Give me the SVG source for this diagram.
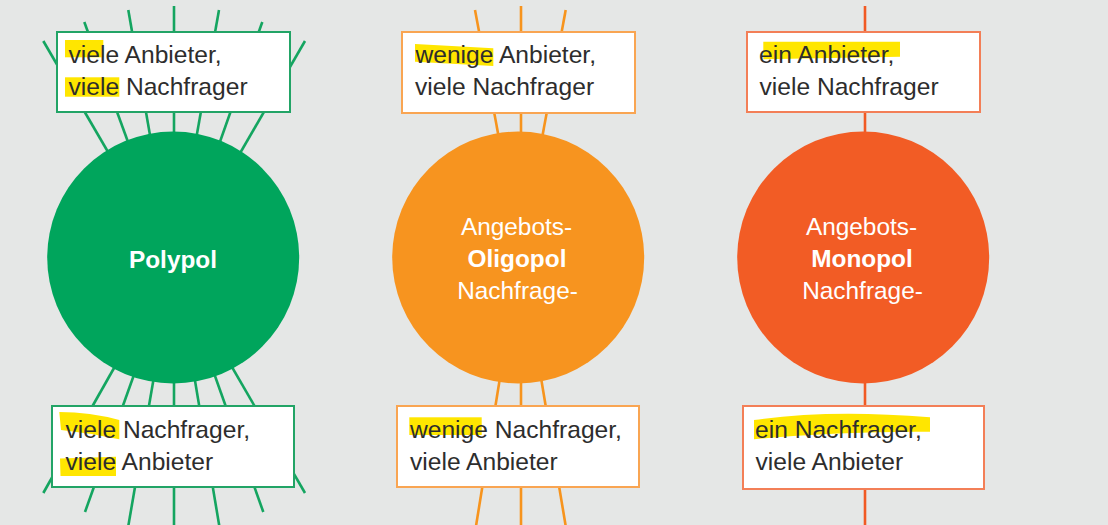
<svg xmlns="http://www.w3.org/2000/svg" width="1108" height="525" viewBox="0 0 1108 525">
<style>
.bg{fill:#e5e7e6}
.rg{stroke:#14a560;stroke-width:2.6;fill:none}
.ro{stroke:#f7941d;stroke-width:2.6;fill:none}
.rr{stroke:#f15a24;stroke-width:2.6;fill:none}
.box{fill:#ffffff;stroke-width:2}
.bg1{stroke:#22a466}
.bo{stroke:#f9a552}
.br{stroke:#f37f57}
.hl{fill:#ffe600}
.t{font-family:"Liberation Sans",Arial,sans-serif;font-size:24.6px;fill:#2d2d2d}
.c{font-family:"Liberation Sans",Arial,sans-serif;font-size:24.4px;fill:#ffffff;text-anchor:middle}
.b{font-weight:bold}
</style>
<rect class="bg" x="0" y="0" width="1108" height="525"/>
<g id="connectors">
  <line class="rg" x1="43.3" y1="41" x2="130.2" y2="190"/>
  <line class="rg" x1="84.3" y1="22" x2="145.5" y2="190"/>
  <line class="rg" x1="128.3" y1="10" x2="159.5" y2="190"/>
  <line class="rg" x1="174" y1="6" x2="174" y2="190"/>
  <line class="rg" x1="219" y1="10" x2="187" y2="190"/>
  <line class="rg" x1="262.3" y1="22" x2="202.9" y2="190"/>
  <line class="rg" x1="305" y1="41" x2="218.7" y2="190"/>
  <line class="rg" x1="129.9" y1="340" x2="43.3" y2="493"/>
  <line class="rg" x1="146.4" y1="340" x2="85" y2="512"/>
  <line class="rg" x1="160.3" y1="340" x2="128.3" y2="526"/>
  <line class="rg" x1="174" y1="340" x2="174" y2="526"/>
  <line class="rg" x1="188.2" y1="340" x2="219.3" y2="526"/>
  <line class="rg" x1="202.2" y1="340" x2="263.3" y2="512"/>
  <line class="rg" x1="216.3" y1="340" x2="305" y2="493"/>
  <line class="ro" x1="475" y1="10" x2="510.5" y2="200"/>
  <line class="ro" x1="521" y1="6" x2="521" y2="200"/>
  <line class="ro" x1="565.7" y1="10" x2="530.6" y2="200"/>
  <line class="ro" x1="506.1" y1="340" x2="476" y2="526"/>
  <line class="ro" x1="521" y1="340" x2="521" y2="526"/>
  <line class="ro" x1="534.7" y1="340" x2="565.7" y2="526"/>
  <line class="rr" x1="865" y1="6" x2="865" y2="200"/>
  <line class="rr" x1="865" y1="320" x2="865" y2="526"/>
</g>
<g id="polypol">
  <circle cx="173.2" cy="257.5" r="126" fill="#00a55c"/>
  <text class="c b" x="173" y="267.5">Polypol</text>
</g>
<g id="oligopol">
  <circle cx="518.2" cy="257.5" r="126" fill="#f7941f"/>
  <text class="c" x="516.5" y="235">Angebots-</text>
  <text class="c b" x="517" y="266.7">Oligopol</text>
  <text class="c" x="517.5" y="298.5">Nachfrage-</text>
</g>
<g id="monopol">
  <circle cx="863.2" cy="257.5" r="126" fill="#f25c25"/>
  <text class="c" x="861.5" y="235">Angebots-</text>
  <text class="c b" x="862" y="266.7">Monopol</text>
  <text class="c" x="862.5" y="298.5">Nachfrage-</text>
</g>
<g id="polypol-top">
  <rect class="box bg1" x="57" y="32" width="233" height="80"/>
  <rect class="hl" x="65" y="40" width="38.3" height="17.3"/>
  <rect class="hl" x="65" y="77.3" width="54.3" height="19.4"/>
  <text class="t" x="68.5" y="63.3">viele Anbieter,</text>
  <text class="t" x="68.5" y="95">viele Nachfrager</text>
</g>
<g id="polypol-bottom">
  <rect class="box bg1" x="52" y="406" width="242" height="81"/>
  <path class="hl" d="M59.3,412 Q90,412 119.3,420 L119.3,439.3 Q90,433 61,430 Z"/>
  <path class="hl" d="M60,458.5 L116,456.7 L116,476 L60.5,476 Z"/>
  <text class="t" x="65.5" y="438.3">viele Nachfrager,</text>
  <text class="t" x="65.5" y="470">viele Anbieter</text>
</g>
<g id="oligopol-top">
  <rect class="box bo" x="402" y="32" width="233" height="81"/>
  <polygon class="hl" points="415,44 493.3,48.3 493.3,66 415,61.7"/>
  <text class="t" x="415.5" y="63.3">wenige Anbieter,</text>
  <text class="t" x="415" y="95">viele Nachfrager</text>
</g>
<g id="oligopol-bottom">
  <rect class="box bo" x="397" y="406" width="242" height="81"/>
  <rect class="hl" x="409.3" y="417.3" width="72.4" height="17.7"/>
  <text class="t" x="410" y="438.3">wenige Nachfrager,</text>
  <text class="t" x="410" y="469.5">viele Anbieter</text>
</g>
<g id="monopol-top">
  <rect class="box br" x="747" y="32" width="233" height="80"/>
  <polygon class="hl" points="763.3,41.7 900,41.7 900,56.7 763.3,59.3"/>
  <text class="t" x="759" y="63.3">ein Anbieter,</text>
  <text class="t" x="759.5" y="95">viele Nachfrager</text>
</g>
<g id="monopol-bottom">
  <rect class="box br" x="743" y="406" width="241" height="83"/>
  <path class="hl" d="M754,420 Q830,409 930,417.3 L930,431.7 Q840,431 754,439.3 Z"/>
  <text class="t" x="755" y="438.3">ein Nachfrager,</text>
  <text class="t" x="755.5" y="469.5">viele Anbieter</text>
</g>
</svg>
